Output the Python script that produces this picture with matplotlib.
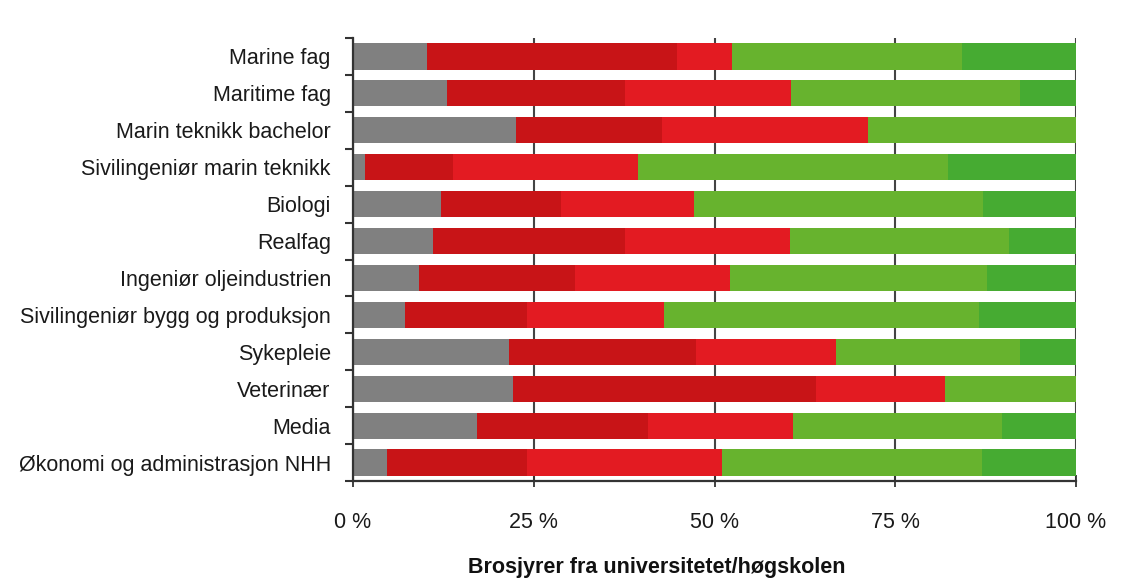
import matplotlib
matplotlib.use("Agg")
import matplotlib.pyplot as plt
import numpy as np

plt.rcParams['font.family'] = ['Liberation Sans', 'DejaVu Sans']

categories = [
    "Marine fag",
    "Maritime fag",
    "Marin teknikk bachelor",
    "Sivilingeniør marin teknikk",
    "Biologi",
    "Realfag",
    "Ingeniør oljeindustrien",
    "Sivilingeniør bygg og produksjon",
    "Sykepleie",
    "Veterinær",
    "Media",
    "Økonomi og administrasjon NHH",
]

# segment shares (%), left to right
gray       = [10.3, 13.0, 22.6, 1.7, 12.2, 11.1, 9.1, 7.2, 21.6, 22.1, 17.2, 4.7]
dark_red   = [34.5, 24.6, 20.2, 12.1, 16.5, 26.5, 21.6, 16.8, 25.8, 42.0, 23.6, 19.3]
red        = [7.6, 23.0, 28.4, 25.6, 18.4, 22.8, 21.4, 19.0, 19.4, 17.8, 20.1, 27.0]
light_grn  = [31.8, 31.6, 28.8, 42.9, 40.1, 30.4, 35.6, 43.6, 25.4, 18.1, 28.8, 36.0]
dark_grn   = [15.8, 7.8, 0.0, 17.7, 12.8, 9.2, 12.3, 13.4, 7.8, 0.0, 10.3, 13.0]

xtick_vals = [0, 25, 50, 75, 100]
xtick_labels = ["0 %", "25 %", "50 %", "75 %", "100 %"]
xlabel = "Brosjyrer fra universitetet/høgskolen"

series = [gray, dark_red, red, light_grn, dark_grn]
colors = ["#808080", "#c81417", "#e31b22", "#67b32e", "#46ab32"]

fig = plt.figure(figsize=(11.22, 5.81), dpi=100)
ax = fig.add_axes([353/1122, 1 - 481/581, (1076-353)/1122, (481-38)/581])

y = np.arange(len(categories))
left = np.zeros(len(categories))
for vals, c in zip(series, colors):
    v = np.array(vals)
    ax.barh(y, v, left=left, color=c, height=0.71, zorder=3, linewidth=0)
    left += v

ax.set_ylim(len(categories) - 0.5, -0.5)
ax.set_xlim(0, 100)

ax.set_yticks(y)
ax.set_yticklabels(categories, fontsize=15.5, color="#1a1a1a")
ax.tick_params(axis='y', which='major', length=0, pad=16)
ax.set_yticks(np.arange(-0.5, len(categories) + 0.5, 1), minor=True)
ax.tick_params(axis='y', which='minor', length=6, width=1.5, direction='out', color="#333333")

ax.set_xticks(xtick_vals)
ax.set_xticklabels(xtick_labels, fontsize=15.5, color="#1a1a1a")
ax.tick_params(axis='x', which='major', length=8, width=1.3, direction='inout', color="#333333", pad=18)

ax.grid(axis='x', color="#444444", linewidth=1.5, zorder=0)
ax.set_axisbelow(True)

for s in ['top', 'right']:
    ax.spines[s].set_visible(False)
for s in ['left', 'bottom']:
    ax.spines[s].set_color("#333333")
    ax.spines[s].set_linewidth(1.6)
    ax.spines[s].set_zorder(4)

fig.text(657/1122, 1 - 567/581, xlabel, ha='center', va='center', fontsize=15.5, fontweight='bold', color="#111111")

fig.savefig("out.png", dpi=100, facecolor="white")
